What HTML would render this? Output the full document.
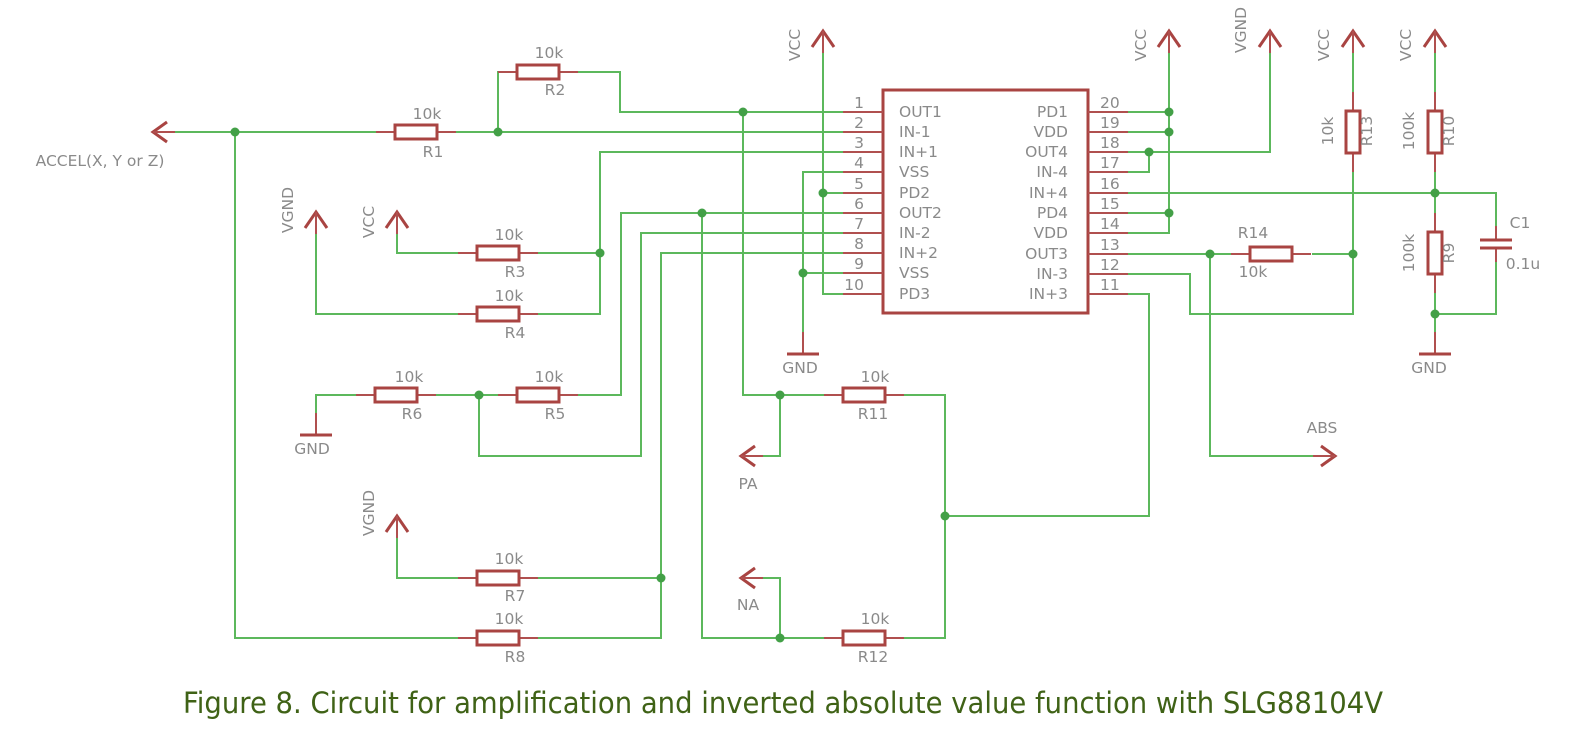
<!DOCTYPE html>
<html><head><meta charset="utf-8"><style>
html,body{margin:0;padding:0;background:#fff;}
svg{display:block;}
.w{stroke:#5cb85c;stroke-width:2;fill:none;}
.r{stroke:#b0504f;stroke-width:2;fill:none;}
.rb{stroke:#a94442;stroke-width:3;fill:#fff;}
.t{font-family:"DejaVu Sans","Liberation Sans",sans-serif;font-size:15.5px;fill:#8a8a8a;}
.d{fill:#43a047;}
</style></head><body>
<svg width="1572" height="733" viewBox="0 0 1572 733" xmlns="http://www.w3.org/2000/svg">
<defs>
<g id="rh"><line class="r" x1="-19" y1="0" x2="0" y2="0"/><line class="r" x1="42" y1="0" x2="61" y2="0"/><rect class="rb" x="0" y="-7" width="42" height="14"/></g>
<g id="rv"><line class="r" x1="0" y1="-19" x2="0" y2="0"/><line class="r" x1="0" y1="42" x2="0" y2="61"/><rect class="rb" x="-7" y="0" width="14" height="42"/></g>
<g id="sup"><polyline class="rb" style="fill:none" points="-11,16 0,0 11,16"/><line class="r" x1="0" y1="0" x2="0" y2="22"/></g>
<g id="gnd"><line class="r" x1="0" y1="-22" x2="0" y2="0"/><line class="rb" x1="-16" y1="0" x2="16" y2="0"/></g>
<g id="al"><polyline class="rb" style="fill:none" points="14,-10 0,0 14,10"/><line class="r" x1="0" y1="0" x2="22" y2="0"/></g>
<g id="ar"><polyline class="rb" style="fill:none" points="-14,-10 0,0 -14,10"/><line class="r" x1="0" y1="0" x2="-22" y2="0"/></g>
</defs>

<g class="w">
<polyline points="843,112 620,112 620,72 578,72"/>
<polyline points="498,132 498,72 517,72"/>
<polyline points="843,132 153,132"/>
<polyline points="743,112 743,395 843,395"/>
<polyline points="904,395 945,395 945,638 904,638"/>
<polyline points="843,638 702,638 702,213"/>
<polyline points="780,395 780,456 743,456"/>
<polyline points="780,638 780,578 743,578"/>
<polyline points="945,516 1149,516 1149,294 1128,294"/>
<polyline points="843,152 600,152 600,314 538,314"/>
<polyline points="600,253 538,253"/>
<polyline points="458,253 397,253 397,212"/>
<polyline points="458,314 316,314 316,212"/>
<polyline points="843,172 803,172 803,332"/>
<polyline points="803,273 843,273"/>
<polyline points="823,31 823,294 843,294"/>
<polyline points="823,193 843,193"/>
<polyline points="843,213 621,213 621,395 578,395"/>
<polyline points="843,233 641,233 641,456 479,456 479,395 498,395"/>
<polyline points="479,395 436,395"/>
<polyline points="356,395 316,395 316,413"/>
<polyline points="843,253 661,253 661,638 538,638"/>
<polyline points="661,578 538,578"/>
<polyline points="458,578 397,578 397,516"/>
<polyline points="458,638 235,638 235,132"/>
<polyline points="1128,112 1169,112"/>
<polyline points="1128,132 1169,132"/>
<polyline points="1128,213 1169,213"/>
<polyline points="1128,233 1169,233 1169,31"/>
<polyline points="1128,152 1270,152 1270,31"/>
<polyline points="1128,172 1149,172 1149,152"/>
<polyline points="1128,193 1496,193 1496,236"/>
<polyline points="1496,252 1496,314 1435,314"/>
<polyline points="1128,254 1231,254"/>
<polyline points="1312,254 1353,254"/>
<polyline points="1210,254 1210,456 1335,456"/>
<polyline points="1128,274 1190,274 1190,314 1353,314 1353,172"/>
<polyline points="1353,92 1353,31"/>
<polyline points="1435,31 1435,92"/>
<polyline points="1435,172 1435,213"/>
<polyline points="1435,293 1435,332"/>
</g>

<rect x="883" y="90" width="205" height="223" class="rb"/>
<g class="r">
<line x1="843" y1="112" x2="883" y2="112"/><line x1="843" y1="132" x2="883" y2="132"/>
<line x1="843" y1="152" x2="883" y2="152"/><line x1="843" y1="172" x2="883" y2="172"/>
<line x1="843" y1="193" x2="883" y2="193"/><line x1="843" y1="213" x2="883" y2="213"/>
<line x1="843" y1="233" x2="883" y2="233"/><line x1="843" y1="253" x2="883" y2="253"/>
<line x1="843" y1="273" x2="883" y2="273"/><line x1="843" y1="294" x2="883" y2="294"/>
<line x1="1088" y1="112" x2="1128" y2="112"/><line x1="1088" y1="132" x2="1128" y2="132"/>
<line x1="1088" y1="152" x2="1128" y2="152"/><line x1="1088" y1="172" x2="1128" y2="172"/>
<line x1="1088" y1="193" x2="1128" y2="193"/><line x1="1088" y1="213" x2="1128" y2="213"/>
<line x1="1088" y1="233" x2="1128" y2="233"/><line x1="1088" y1="254" x2="1128" y2="254"/>
<line x1="1088" y1="274" x2="1128" y2="274"/><line x1="1088" y1="294" x2="1128" y2="294"/>
</g>
<g class="t" text-anchor="end">
<text x="864" y="108">1</text><text x="864" y="128">2</text><text x="864" y="148">3</text><text x="864" y="168">4</text><text x="864" y="189">5</text>
<text x="864" y="209">6</text><text x="864" y="229">7</text><text x="864" y="249">8</text><text x="864" y="269">9</text><text x="864" y="290">10</text>
<text x="1068" y="117">PD1</text><text x="1068" y="137">VDD</text><text x="1068" y="157">OUT4</text><text x="1068" y="177">IN-4</text><text x="1068" y="198">IN+4</text>
<text x="1068" y="218">PD4</text><text x="1068" y="238">VDD</text><text x="1068" y="259">OUT3</text><text x="1068" y="279">IN-3</text><text x="1068" y="299">IN+3</text>
</g>
<g class="t">
<text x="899" y="117">OUT1</text><text x="899" y="137">IN-1</text><text x="899" y="157">IN+1</text><text x="899" y="177">VSS</text><text x="899" y="198">PD2</text>
<text x="899" y="218">OUT2</text><text x="899" y="238">IN-2</text><text x="899" y="258">IN+2</text><text x="899" y="278">VSS</text><text x="899" y="299">PD3</text>
<text x="1100" y="108">20</text><text x="1100" y="128">19</text><text x="1100" y="148">18</text><text x="1100" y="168">17</text><text x="1100" y="189">16</text>
<text x="1100" y="209">15</text><text x="1100" y="229">14</text><text x="1100" y="250">13</text><text x="1100" y="270">12</text><text x="1100" y="290">11</text>
</g>

<use href="#rh" x="395" y="132"/><use href="#rh" x="517" y="72"/>
<use href="#rh" x="477" y="253"/><use href="#rh" x="477" y="314"/>
<use href="#rh" x="375" y="395"/><use href="#rh" x="517" y="395"/>
<use href="#rh" x="477" y="578"/><use href="#rh" x="477" y="638"/>
<use href="#rh" x="843" y="395"/><use href="#rh" x="843" y="638"/>
<use href="#rh" x="1250" y="254"/>
<use href="#rv" x="1353" y="111"/><use href="#rv" x="1435" y="111"/><use href="#rv" x="1435" y="232"/>
<line class="r" x1="1496" y1="226" x2="1496" y2="240"/><line class="r" x1="1496" y1="248" x2="1496" y2="262"/>
<line class="rb" x1="1480" y1="240" x2="1512" y2="240"/><line class="rb" x1="1480" y1="248" x2="1512" y2="248"/>

<use href="#sup" x="823" y="31"/><use href="#sup" x="1169" y="31"/><use href="#sup" x="1270" y="31"/>
<use href="#sup" x="1353" y="31"/><use href="#sup" x="1435" y="31"/>
<use href="#sup" x="397" y="212"/><use href="#sup" x="316" y="212"/><use href="#sup" x="397" y="516"/>
<use href="#gnd" x="803" y="354"/><use href="#gnd" x="316" y="435"/><use href="#gnd" x="1435" y="354"/>
<use href="#al" x="153" y="132"/><use href="#al" x="741" y="456"/><use href="#al" x="741" y="578"/>
<use href="#ar" x="1335" y="456"/>

<g class="d">
<circle cx="235" cy="132" r="4.5"/><circle cx="498" cy="132" r="4.5"/><circle cx="743" cy="112" r="4.5"/>
<circle cx="823" cy="193" r="4.5"/><circle cx="803" cy="273" r="4.5"/><circle cx="702" cy="213" r="4.5"/>
<circle cx="600" cy="253" r="4.5"/><circle cx="479" cy="395" r="4.5"/><circle cx="661" cy="578" r="4.5"/>
<circle cx="780" cy="395" r="4.5"/><circle cx="780" cy="638" r="4.5"/><circle cx="945" cy="516" r="4.5"/>
<circle cx="1169" cy="112" r="4.5"/><circle cx="1169" cy="132" r="4.5"/><circle cx="1169" cy="213" r="4.5"/>
<circle cx="1149" cy="152" r="4.5"/><circle cx="1210" cy="254" r="4.5"/><circle cx="1353" cy="254" r="4.5"/>
<circle cx="1435" cy="193" r="4.5"/><circle cx="1435" cy="314" r="4.5"/>
</g>

<g class="t" text-anchor="middle">
<text x="427" y="119">10k</text><text x="433" y="157">R1</text>
<text x="549" y="58">10k</text><text x="555" y="95">R2</text>
<text x="509" y="240">10k</text><text x="515" y="277">R3</text>
<text x="509" y="301">10k</text><text x="515" y="338">R4</text>
<text x="409" y="382">10k</text><text x="412" y="419">R6</text>
<text x="549" y="382">10k</text><text x="555" y="419">R5</text>
<text x="509" y="564">10k</text><text x="515" y="601">R7</text>
<text x="509" y="624">10k</text><text x="515" y="662">R8</text>
<text x="875" y="382">10k</text><text x="873" y="419">R11</text>
<text x="875" y="624">10k</text><text x="873" y="662">R12</text>
<text x="1253" y="238">R14</text><text x="1253" y="277">10k</text>
<text x="100" y="166">ACCEL(X, Y or Z)</text>
<text x="748" y="489">PA</text><text x="748" y="610">NA</text>
<text x="1322" y="433">ABS</text>
<text x="800" y="373">GND</text><text x="312" y="454">GND</text><text x="1429" y="373">GND</text>
<text x="1520" y="228">C1</text><text x="1523" y="269">0.1u</text>
</g>
<g class="t" text-anchor="middle">
<text transform="translate(800,45) rotate(-90)">VCC</text>
<text transform="translate(1146,45) rotate(-90)">VCC</text>
<text transform="translate(1246,30) rotate(-90)">VGND</text>
<text transform="translate(1329,45) rotate(-90)">VCC</text>
<text transform="translate(1411,45) rotate(-90)">VCC</text>
<text transform="translate(374,222) rotate(-90)">VCC</text>
<text transform="translate(293,210) rotate(-90)">VGND</text>
<text transform="translate(374,513) rotate(-90)">VGND</text>
<text transform="translate(1333,131) rotate(-90)">10k</text>
<text transform="translate(1372,131) rotate(-90)">R13</text>
<text transform="translate(1414,131) rotate(-90)">100k</text>
<text transform="translate(1454,131) rotate(-90)">R10</text>
<text transform="translate(1414,253) rotate(-90)">100k</text>
<text transform="translate(1454,253) rotate(-90)">R9</text>
</g>

<text x="783" y="713" text-anchor="middle" textLength="1200" lengthAdjust="spacingAndGlyphs" style="font-family:'DejaVu Sans','Liberation Sans',sans-serif;font-size:29px;fill:#3f6216;">Figure 8. Circuit for amplification and inverted absolute value function with SLG88104V</text>
</svg>
</body></html>
